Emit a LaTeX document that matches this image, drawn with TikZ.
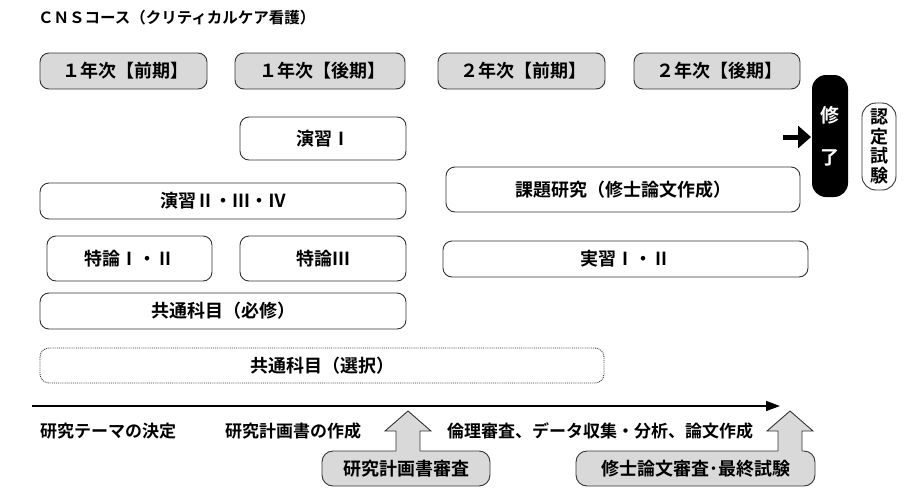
\documentclass[tikz,border=0pt]{standalone}
\usepackage{fontspec}
\setmainfont{Noto Sans CJK JP}[BoldFont={* Bold}]
\usetikzlibrary{arrows.meta}
\definecolor{hd}{HTML}{D9D9D9}
\definecolor{ln}{HTML}{333333}
\tikzset{
  box/.style={draw=ln,line width=0.9pt,rounded corners=9pt,font=\bfseries\fontsize{18}{18}\selectfont},
  hdr/.style={box,fill=hd},
  lbl/.style={font=\bfseries\fontsize{17}{17}\selectfont,anchor=west,inner sep=0pt},
}
\begin{document}
\begin{tikzpicture}[x=1pt,y=-1pt]
\useasboundingbox (0,0) rectangle (908,501);
\node[lbl,font=\bfseries\fontsize{15.5}{15.5}\selectfont] (title) at (38,18) {ＣＮＳコース（クリティカルケア看護）};
% headers
\draw[hdr] (40,53) rectangle (207,89) node[midway] (h1) {\ １年次【前期】};
\draw[hdr] (235,53) rectangle (405,89) node[midway] (h2) {\ １年次【後期】};
\draw[hdr] (438,53) rectangle (605,89) node[midway] (h3) {\ ２年次【前期】};
\draw[hdr] (634,53) rectangle (800,89) node[midway] (h4) {\ ２年次【後期】};
% completion
\fill[black,rounded corners=14pt] (812,75) rectangle (848,197);
\node[text=white,font=\bfseries\fontsize{19}{19}\selectfont] (shu) at (830,115) {修};
\node[text=white,font=\bfseries\fontsize{19}{19}\selectfont] (ryo) at (830,158) {了};
\draw[box,rounded corners=14pt] (862,103) rectangle (896,190);
\node[font=\bfseries\fontsize{18}{19.5}\selectfont,align=center,inner sep=0pt] (nintei) at (879,146.5) {認\\定\\試\\験};
\coordinate (ca) at (783,137);
\coordinate (cb) at (811,137);
\draw[line width=5pt,-{Triangle[length=13pt,width=22pt]}] (ca) -- (cb);
% courses
\draw[box] (240,117) rectangle (406,160) node[midway] (e1) {演習Ⅰ};
\draw[box] (40,183) rectangle (406,219) node[midway] (e2) {演習Ⅱ・Ⅲ・Ⅳ};
\draw[box] (446,167) rectangle (800,212) node[midway] (kd) {課題研究（修士論文作成）};
\draw[box] (47,236) rectangle (212,281) node[midway] (t1) {特論Ⅰ・Ⅱ};
\draw[box] (240,236) rectangle (406,281) node[midway] (t3) {特論Ⅲ};
\draw[box] (443,241) rectangle (808,277) node[midway] (js) {実習Ⅰ・Ⅱ};
\draw[box] (40,293) rectangle (406,329) node[midway] (k1) {共通科目（必修）};
\draw[box,densely dotted] (40,348) rectangle (604,383) node[midway] (k2) {共通科目（選択）};
% timeline
\coordinate (t0) at (32,406);
\coordinate (t9) at (780,406);
\draw[line width=1.5pt,-{Triangle[length=14pt,width=10pt]}] (t0) -- (t9);
\node[lbl] (l1) at (40,431) {研究テーマの決定};
\node[lbl] (l2) at (225,431) {研究計画書の作成};
\node[lbl] (l3) at (447,431) {倫理審査、データ収集・分析、論文作成};
% review boxes with block arrows
\draw[hdr,rounded corners=11pt] (322,451) rectangle (490,486) node[midway] (r1) {研究計画書審査};
\fill[hd] (396,454) -- (396,431) -- (385,431) -- (408,411) -- (431,431) -- (420,431) -- (420,454) -- cycle;
\draw[ln,line width=0.9pt] (396,451) -- (396,431) -- (385,431) -- (408,411) -- (431,431) -- (420,431) -- (420,451);
\draw[hdr,rounded corners=11pt] (576,451) rectangle (815,486) node[midway] (r2) {修士論文審査･最終試験};
\fill[hd] (778,454) -- (778,431) -- (767,431) -- (790,411) -- (813,431) -- (802,431) -- (802,454) -- cycle;
\draw[ln,line width=0.9pt] (778,451) -- (778,431) -- (767,431) -- (790,411) -- (813,431) -- (802,431) -- (802,451);
\end{tikzpicture}
\end{document}
